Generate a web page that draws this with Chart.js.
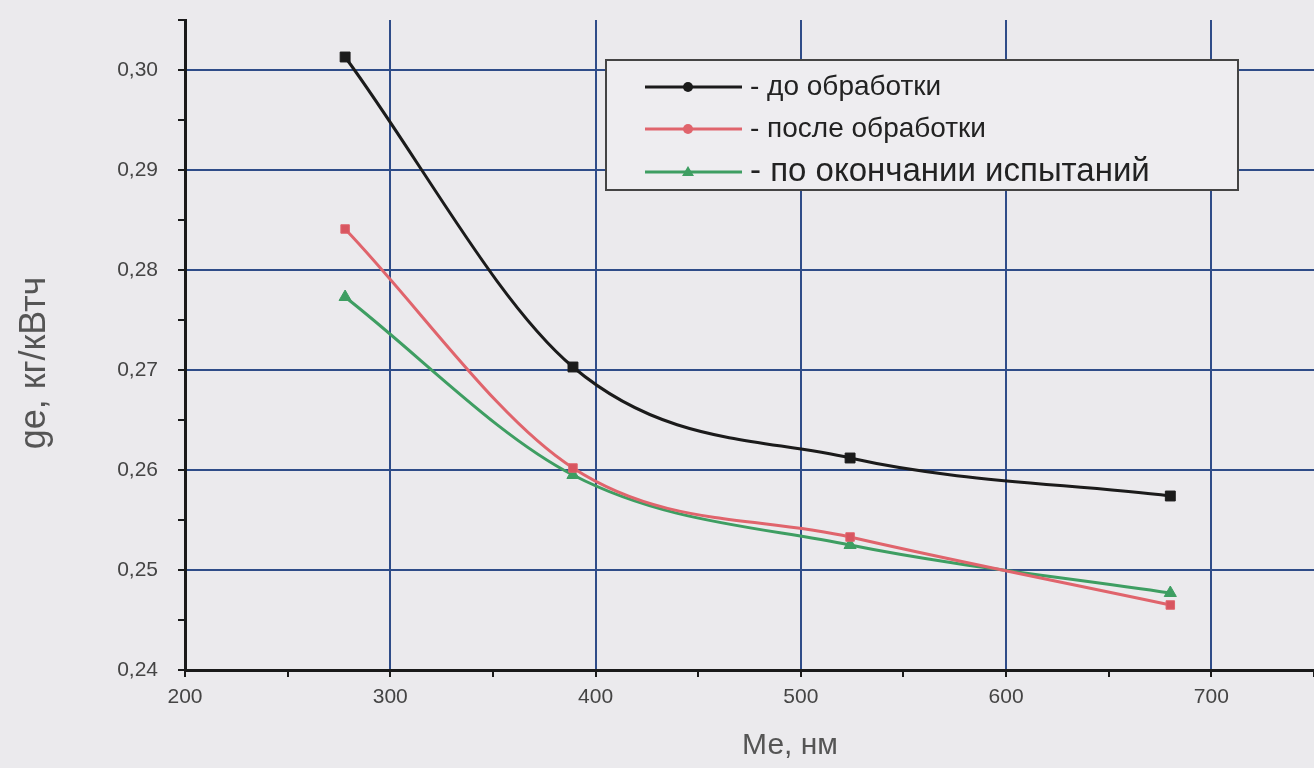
<!DOCTYPE html>
<html>
<head>
<meta charset="utf-8">
<script src="https://cdn.jsdelivr.net/npm/chart.js@4.4.0/dist/chart.umd.min.js"></script>
<style>
  html, body { margin: 0; padding: 0; background: #ebeaed; overflow: hidden; }
  #wrap { width: 1314px; height: 768px; position: relative; overflow: hidden; }
</style>
</head>
<body>
<div id="wrap"><canvas id="chart" width="1322" height="768"></canvas></div>
<script>
// Data
const xValues = [278, 389, 524, 680];
const beforeVals = [0.3013, 0.2703, 0.2612, 0.2574];
const afterVals = [0.2841, 0.2602, 0.2533, 0.2465];
const endVals = [0.2773, 0.2595, 0.2525, 0.2477];
const seriesNames = ['- до обработки', '- после обработки', '- по окончании испытаний'];
const xTitle = 'Ме, нм';
const yTitle = 'ge, кг/кВтч';

const gridBlue = '#2f4c88';
const bg = '#ebeaed';
const fontFamily = '"Liberation Sans", Arial, sans-serif';

function toPoints(vals) {
    return vals.map((v, i) => ({ x: xValues[i], y: v }));
}

function isMajorY(v) {
    return Math.abs(Math.round(v * 100) - v * 100) < 1e-6;
}

// Background fill
const bgPlugin = {
    id: 'bg',
    beforeDraw(chart) {
        const c = chart.ctx;
        c.save();
        c.fillStyle = bg;
        c.fillRect(0, 0, chart.width, chart.height);
        c.restore();
    }
};

// Axis titles and legend box
const extrasPlugin = {
    id: 'extras',
    afterDraw(chart) {
        const c = chart.ctx;
        c.save();
        c.fillStyle = '#555';
        c.font = '30px ' + fontFamily;
        c.textAlign = 'center';
        c.textBaseline = 'middle';
        c.fillText(xTitle, 790, 746);
        c.translate(35, 363);
        c.rotate(-Math.PI / 2);
        c.font = '36px ' + fontFamily;
        c.fillText(yTitle, 0, 0);
        c.restore();

        // legend
        c.save();
        c.fillStyle = '#eeedf0';
        c.fillRect(606, 60, 632, 130);
        c.strokeStyle = '#444';
        c.lineWidth = 2;
        c.strokeRect(606, 60, 632, 130);
        const ds = chart.data.datasets;
        const rows = [87, 129, 172];
        const fonts = ['28px', '28px', '33px'];
        ds.forEach((d, i) => {
            const y = rows[i];
            c.strokeStyle = d.borderColor;
            c.lineWidth = 3;
            c.beginPath();
            c.moveTo(645, y);
            c.lineTo(742, y);
            c.stroke();
            c.fillStyle = d.borderColor;
            c.beginPath();
            if (i === 2) {
                c.moveTo(688, y - 6); c.lineTo(694, y + 4); c.lineTo(682, y + 4); c.closePath();
            } else {
                c.arc(688, y, 5, 0, Math.PI * 2);
            }
            c.fill();
            c.fillStyle = '#222';
            c.font = fonts[i] + ' ' + fontFamily;
            c.textAlign = 'left';
            c.textBaseline = 'middle';
            c.fillText(seriesNames[i], 750, y);
        });
        c.restore();
    }
};

const ctx = document.getElementById('chart').getContext('2d');
new Chart(ctx, {
    type: 'scatter',
    data: {
        datasets: [
            {
                label: seriesNames[0], data: toPoints(beforeVals),
                borderColor: '#1b1b1b', backgroundColor: '#1b1b1b',
                pointStyle: 'rect', pointRadius: 7, borderWidth: 3
            },
            {
                label: seriesNames[1], data: toPoints(afterVals),
                borderColor: '#e0646c', backgroundColor: '#d85560',
                pointStyle: 'rect', pointRadius: 6, borderWidth: 3
            },
            {
                label: seriesNames[2], data: toPoints(endVals),
                borderColor: '#3e9e62', backgroundColor: '#3e9e62',
                pointStyle: 'triangle', pointRadius: 7, borderWidth: 3
            }
        ].map(d => Object.assign(d, { showLine: true, cubicInterpolationMode: 'monotone', pointBorderWidth: 1 }))
    },
    options: {
        responsive: false,
        animation: false,
        layout: { padding: { top: 20, right: 0, left: 0, bottom: 0 } },
        plugins: { legend: { display: false }, tooltip: { enabled: false } },
        scales: {
            x: {
                type: 'linear', min: 200, max: 750,
                afterFit(scale) {
                    scale.height = 98;
                    scale.paddingRight = 0;
                    scale.paddingLeft = 0;
                },
                border: { color: '#1a1a1a', width: 3 },
                grid: {
                    color: c => (c.tick && c.tick.value % 100 === 0 && c.tick.value > 200 && c.tick.value < 750) ? gridBlue : 'transparent',
                    lineWidth: 2,
                    tickColor: '#1a1a1a',
                    tickLength: 7
                },
                ticks: {
                    stepSize: 50,
                    padding: 8,
                    maxRotation: 0,
                    autoSkip: false,
                    color: '#444',
                    font: { family: fontFamily, size: 21 },
                    callback: v => (v % 100 === 0 ? String(v) : '')
                }
            },
            y: {
                min: 0.24, max: 0.305,
                afterFit(scale) {
                    scale.width = 185;
                    scale.paddingTop = 0;
                    scale.paddingBottom = 0;
                },
                border: { color: '#1a1a1a', width: 3 },
                grid: {
                    color: c => (c.tick && isMajorY(c.tick.value) && c.tick.value > 0.2405) ? gridBlue : 'transparent',
                    lineWidth: 2,
                    tickColor: '#1a1a1a',
                    tickLength: 7
                },
                ticks: {
                    stepSize: 0.005,
                    padding: 20,
                    autoSkip: false,
                    color: '#444',
                    font: { family: fontFamily, size: 21 },
                    callback: v => (isMajorY(v) ? v.toFixed(2).replace('.', ',') : '')
                }
            }
        }
    },
    plugins: [bgPlugin, extrasPlugin]
});
</script>
</body>
</html>
